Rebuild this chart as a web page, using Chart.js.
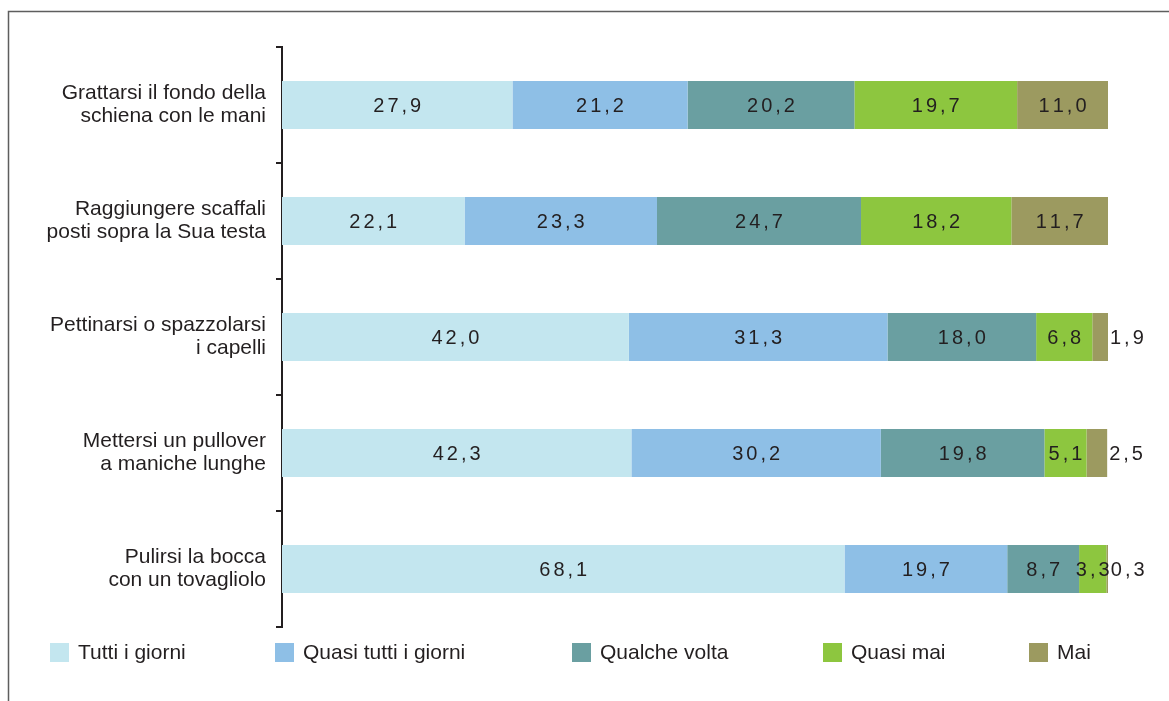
<!DOCTYPE html>
<html lang="it">
<head>
    <meta charset="UTF-8">
    <title>Difficoltà nelle attività quotidiane</title>
    <script src="https://cdn.jsdelivr.net/npm/chart.js"></script>
    <style>
        body {
            margin: 0;
            background: #ffffff;
        }
        .chart-box {
            position: relative;
            width: 1169px;
            height: 701px;
        }
    </style>
</head>
<body>
    <div class="chart-box">
        <canvas id="grafico"></canvas>
    </div>

    <script>
        // Dati (percentuali)
        const categorie = [
            ['Grattarsi il fondo della', 'schiena con le mani'],
            ['Raggiungere scaffali', 'posti sopra la Sua testa'],
            ['Pettinarsi o spazzolarsi', 'i capelli'],
            ['Mettersi un pullover', 'a maniche lunghe'],
            ['Pulirsi la bocca', 'con un tovagliolo']
        ];
        const nomiSerie = ['Tutti i giorni', 'Quasi tutti i giorni', 'Qualche volta', 'Quasi mai', 'Mai'];
        const tuttiGiorni  = [27.9, 22.1, 42.0, 42.3, 68.1];
        const quasiTutti   = [21.2, 23.3, 31.3, 30.2, 19.7];
        const qualcheVolta = [20.2, 24.7, 18.0, 19.8, 8.7];
        const quasiMai     = [19.7, 18.2, 6.8, 5.1, 3.3];
        const mai          = [11.0, 11.7, 1.9, 2.5, 0.3];

        const colori = ['#c3e6ef', '#8ebfe6', '#6a9fa1', '#8dc63f', '#9c9a60'];
        const serie = [tuttiGiorni, quasiTutti, qualcheVolta, quasiMai, mai];

        const FONT = '"Liberation Sans", Arial, Helvetica, sans-serif';
        const TESTO = '#231f20';

        // testo con spaziatura tra le lettere (come nell'originale)
        function testoSpaziato(ctx, txt, x, y, spazio, allinea) {
            let larg = 0;
            for (const c of txt) larg += ctx.measureText(c).width;
            larg += spazio * (txt.length - 1);
            let cx = allinea === 'left' ? x : x - larg / 2;
            for (const c of txt) {
                ctx.fillText(c, cx, y);
                cx += ctx.measureText(c).width + spazio;
            }
        }

        // cornice esterna
        const cornice = {
            id: 'cornice',
            beforeDraw(chart) {
                const ctx = chart.ctx;
                ctx.save();
                ctx.strokeStyle = '#5e5e5e';
                ctx.lineWidth = 1.5;
                ctx.strokeRect(8.5, 11.5, 1300, 900);
                ctx.restore();
            }
        };

        // etichette dei valori
        const etichette = {
            id: 'etichette',
            afterDatasetsDraw(chart) {
                const ctx = chart.ctx;
                ctx.save();
                ctx.font = '20px ' + FONT;
                ctx.fillStyle = TESTO;
                ctx.textBaseline = 'middle';
                ctx.textAlign = 'left';
                chart.data.datasets.forEach((ds, i) => {
                    chart.getDatasetMeta(i).data.forEach((bar, j) => {
                        const v = ds.data[j];
                        const txt = v.toFixed(1).replace('.', ',');
                        if (v < 3) {
                            testoSpaziato(ctx, txt, bar.x + 2, bar.y + 1, 3, 'left');
                        } else {
                            testoSpaziato(ctx, txt, (bar.x + bar.base) / 2, bar.y + 1, 3, 'center');
                        }
                    });
                });
                ctx.restore();
            }
        };

        // legenda in basso
        const legendaX = [50, 275, 572, 823, 1029];
        const legenda = {
            id: 'legenda',
            afterDraw(chart) {
                const ctx = chart.ctx;
                ctx.save();
                ctx.font = '21px ' + FONT;
                ctx.textBaseline = 'middle';
                ctx.textAlign = 'left';
                nomiSerie.forEach((nome, i) => {
                    ctx.fillStyle = colori[i];
                    ctx.fillRect(legendaX[i], 643, 19, 19);
                    ctx.fillStyle = TESTO;
                    ctx.fillText(nome, legendaX[i] + 28, 653);
                });
                ctx.restore();
            }
        };

        new Chart(document.getElementById('grafico'), {
            type: 'bar',
            data: {
                labels: categorie,
                datasets: serie.map((d, i) => ({
                    label: nomiSerie[i],
                    data: d,
                    backgroundColor: colori[i],
                    borderWidth: 0,
                    barPercentage: 0.414,
                    categoryPercentage: 1
                }))
            },
            options: {
                indexAxis: 'y',
                responsive: true,
                maintainAspectRatio: false,
                animation: false,
                layout: {
                    padding: { top: 47, bottom: 74, left: 0, right: 61 }
                },
                plugins: {
                    legend: { display: false },
                    tooltip: { enabled: false }
                },
                scales: {
                    x: {
                        stacked: true,
                        min: 0,
                        max: 100,
                        display: false
                    },
                    y: {
                        stacked: true,
                        afterFit(scale) { scale.width = 282; },
                        border: { display: true, color: TESTO, width: 2 },
                        grid: {
                            offset: true,
                            drawOnChartArea: false,
                            drawTicks: true,
                            tickLength: 6,
                            color: TESTO,
                            lineWidth: 2
                        },
                        ticks: {
                            color: TESTO,
                            padding: 10,
                            font: { family: FONT, size: 21, lineHeight: 1.1 }
                        }
                    }
                }
            },
            plugins: [cornice, etichette, legenda]
        });
    </script>
</body>
</html>
